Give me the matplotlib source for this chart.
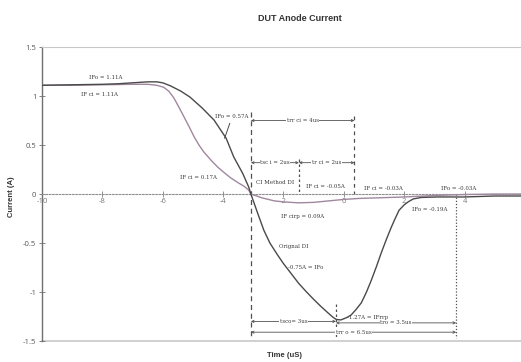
import matplotlib
matplotlib.use("Agg")
import matplotlib.pyplot as plt

# Original diode current (dark trace)
t_orig = [-10, -9, -8, -7.5, -7, -6.5, -6.2, -6.0, -5.75, -5.4, -5.1, -4.7, -4.3,
          -3.9, -3.65, -3.35, -3.15, -3.08, -2.85, -2.65, -2.45, -2.2, -2.0, -1.75,
          -1.5, -1.25, -1.0, -0.75, -0.5, -0.35, -0.25, -0.1, 0.1, 0.24, 0.4, 0.58,
          0.75, 0.91, 1.08, 1.24, 1.4, 1.57, 1.7, 1.83, 2.0, 2.13, 2.3, 2.56, 3.1,
          4.0, 5.0, 6.0]
i_orig = [1.11, 1.115, 1.12, 1.125, 1.135, 1.145, 1.145, 1.135, 1.105, 1.05, 0.99, 0.88, 0.755,
          0.57, 0.38, 0.21, 0.07, 0.0, -0.20, -0.37, -0.50, -0.62, -0.71, -0.81,
          -0.91, -0.995, -1.075, -1.15, -1.22, -1.26, -1.28, -1.285, -1.26, -1.235, -1.18, -1.11,
          -1.00, -0.88, -0.74, -0.60, -0.47, -0.34, -0.25, -0.165, -0.11, -0.08, -0.05, -0.035, -0.03,
          -0.03, -0.02, -0.02]

# CI method diode current (mauve trace)
t_ci = [-10, -9, -8, -7, -6.5, -6.2, -5.97, -5.8, -5.64, -5.47, -5.3, -5.13, -4.97,
        -4.8, -4.64, -4.4, -4.18, -3.95, -3.75, -3.5, -3.31, -3.15, -3.08, -2.7, -2.3,
        -2.0, -1.5, -1.0, -0.5, 0.0, 0.5, 1.0, 2.0, 3.0, 4.0, 5.0, 6.0]
i_ci = [1.11, 1.11, 1.115, 1.12, 1.12, 1.11, 1.09, 1.05, 0.985, 0.89, 0.79, 0.69, 0.59,
        0.50, 0.43, 0.345, 0.275, 0.215, 0.165, 0.115, 0.08, 0.04, 0.0, -0.04, -0.07,
        -0.08, -0.09, -0.085, -0.07, -0.055, -0.045, -0.04, -0.03, -0.015, -0.005, 0.0, 0.0]

x_ticks = [-10, -8, -6, -4, -2, 0, 2, 4]
y_ticks = [-1.5, -1, -0.5, 0, 0.5, 1, 1.5]
y_tick_labels = ["-1.5", "-1", "-0.5", "0", "0.5", "1", "1.5"]

# Point labels: (text, x, y, ha)
point_labels = [
    ("IFo = 1.11A", -7.9, 1.19, "center"),
    ("IF ci = 1.11A", -8.1, 1.02, "center"),
    ("IFo = 0.57A", -3.7, 0.79, "center"),
    ("IF ci = 0.17A", -4.8, 0.17, "center"),
    ("CI Method DI", -2.9, 0.12, "left"),
    ("IF ci = -0.05A", -0.6, 0.08, "center"),
    ("IF ci = -0.03A", 1.3, 0.06, "center"),
    ("IFo = -0.03A", 3.8, 0.06, "center"),
    ("IFo = -0.19A", 2.85, -0.16, "center"),
    ("IF cirp = 0.09A", -1.35, -0.23, "center"),
    ("Orignal DI", -2.15, -0.54, "left"),
    ("-0.75A = IFo", -1.25, -0.745, "center"),
    ("-1.27A = IFrrp", 0.8, -1.265, "center"),
]

# Timing spans: (text, x_start, x_end, y)
spans = [
    ("trr ci = 4us", -3.08, 0.35, 0.75),
    ("tsc i = 2us", -3.08, -1.49, 0.32),
    ("tr ci = 2us", -1.49, 0.35, 0.32),
    ("tsco= 3us", -3.08, -0.26, -1.30),
    ("tro = 3.5us", -0.26, 3.72, -1.315),
    ("trr o = 6.5us", -3.08, 3.72, -1.41),
]

# Vertical markers: (x, y_top, y_bottom, style)
markers = [
    (-3.08, 0.84, -1.47, (0, (4, 3))),
    (0.35, 0.80, 0.0, (0, (3, 3))),
    (-1.49, 0.36, 0.0, (0, (2, 2))),
    (-0.26, -1.12, -1.47, (0, (2, 2))),
    (3.72, 0.0, -1.47, (0, (1, 1.5))),
]

fig = plt.figure(figsize=(5.21, 3.62), dpi=100)
ax = fig.add_axes([0.0806, 0.058, 0.9270, 0.812])
ax.set_xlim(-10, 6)
ax.set_ylim(-1.5, 1.5)

ax.plot(t_ci, i_ci, color="#a0889e", lw=1.0, zorder=3)
ax.plot(t_orig, i_orig, color="#4a4a4a", lw=1.0, zorder=4)

# axes frame
ax.spines["right"].set_visible(False)
ax.spines["top"].set_color("#c8c8c8")
ax.spines["left"].set_color("#707070")
ax.spines["left"].set_linewidth(1.0)
ax.spines["bottom"].set_position(("data", 0))
ax.spines["bottom"].set_linestyle((0, (1.5, 1.5)))
ax.spines["bottom"].set_color("#909090")
ax.axhline(-1.5, color="#c8c8c8", lw=1.2, clip_on=False, zorder=1)

ax.set_xticks(x_ticks)
ax.set_xticklabels([str(v) for v in x_ticks])
ax.set_yticks(y_ticks)
ax.set_yticklabels(y_tick_labels)
ax.tick_params(axis="x", direction="inout", length=4, width=0.6, color="#808080",
               labelsize=5.5, labelcolor="#7a7a7a", pad=1)
ax.tick_params(axis="y", direction="inout", length=4, width=0.6, color="#707070",
               labelsize=5.5, labelcolor="#555555", pad=2)
for lab in ax.get_xticklabels() + ax.get_yticklabels():
    lab.set_family("Open Sans")

ax.set_title("DUT Anode Current", fontsize=6.5, fontweight="bold",
             family="Liberation Sans", color="#333333", pad=19, x=0.534)
ax.set_xlabel("Time (uS)", fontsize=5.5, fontweight="bold",
              family="Liberation Sans", color="#333333")
ax.xaxis.set_label_coords(0.503, -0.037)
ax.set_ylabel("Current (A)", fontsize=5.5, fontweight="bold",
              family="Liberation Sans", color="#333333")
ax.yaxis.set_label_coords(-0.056, 0.49)

ann_font = dict(fontsize=4.0, family="DejaVu Serif", color="#3a3a3a")

for text, x, y, ha in point_labels:
    ax.text(x, y, text, ha=ha, va="center", zorder=6, **ann_font)

# leader from the 0.57A label to the dark curve
ax.plot([-3.78, -3.95], [0.72, 0.57], color="#4a4a4a", lw=0.7, zorder=5)

for x, y0, y1, ls in markers:
    ax.plot([x, x], [y0, y1], color="#505050", lw=0.9, linestyle=ls, zorder=2)

for text, x0, x1, y in spans:
    ax.annotate("", xy=(x0, y), xytext=(x1, y),
                arrowprops=dict(arrowstyle="<->", color="#505050", lw=0.6,
                                shrinkA=0, shrinkB=0, mutation_scale=4),
                zorder=5)
    ax.text((x0 + x1) / 2, y, text, ha="center", va="center", zorder=6,
            bbox=dict(boxstyle="square,pad=0.1", fc="white", ec="none"), **ann_font)

fig.savefig("out.png", dpi=100)
